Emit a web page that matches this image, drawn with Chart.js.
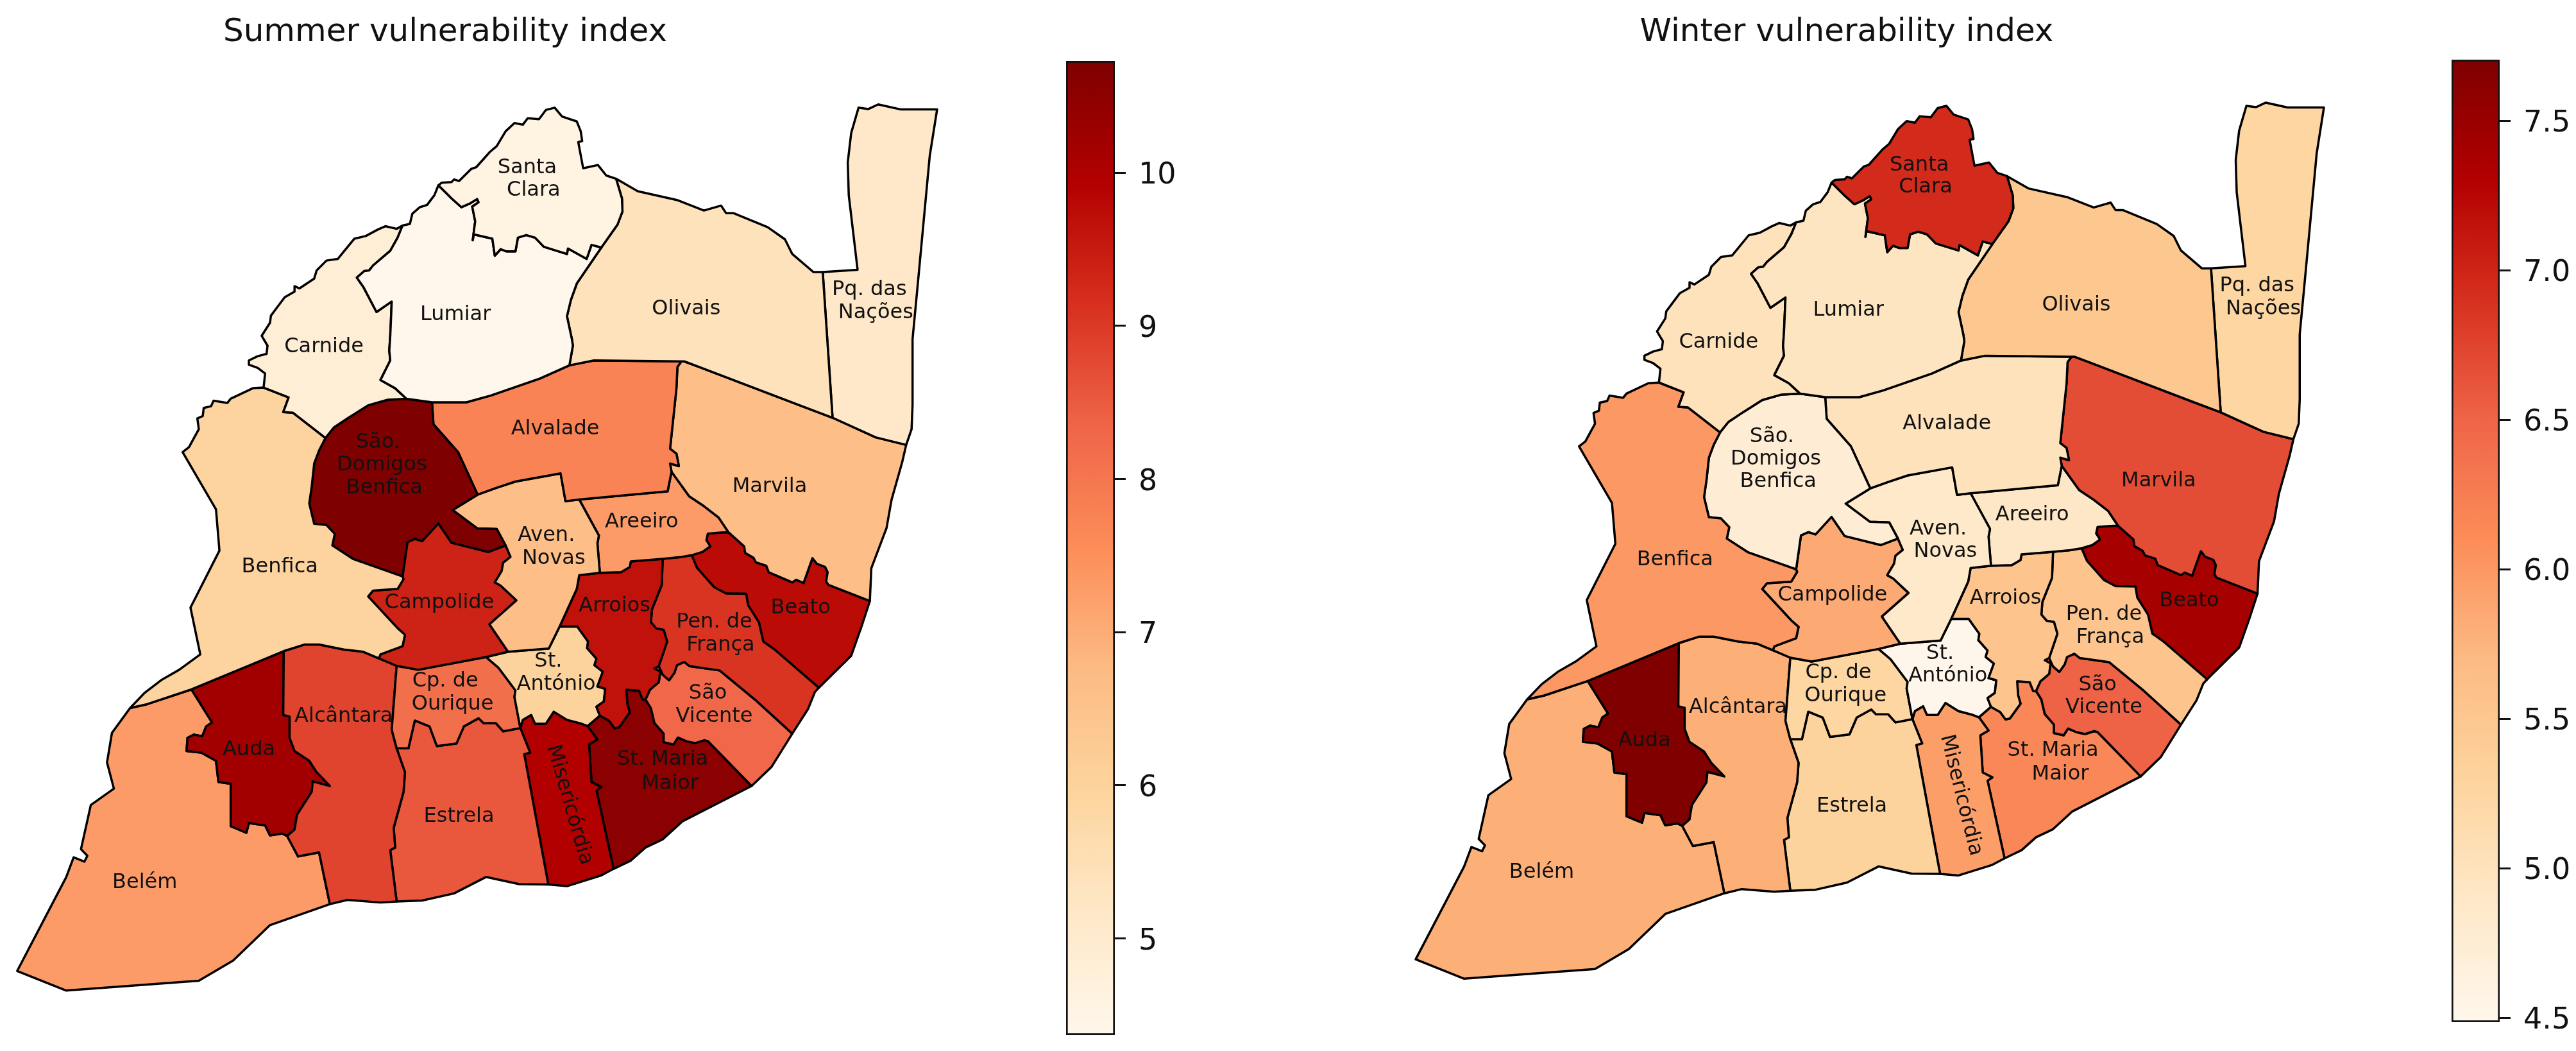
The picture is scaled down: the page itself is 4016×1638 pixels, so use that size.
<!DOCTYPE html>
<html>
<head>
<meta charset="utf-8">
<title>Vulnerability index</title>
<script src="https://cdn.jsdelivr.net/npm/chart.js@4"></script>
<style>
  html, body { margin: 0; padding: 0; background: #fff; width: 4016px; height: 1638px; overflow: hidden; }
  canvas { position: absolute; }
</style>
</head>
<body>
<canvas id="summerMap"></canvas>
<canvas id="summerBar"></canvas>
<canvas id="winterMap"></canvas>
<canvas id="winterBar"></canvas>
<script>
// data
const parishes = ['Santa Clara', 'Lumiar', 'Carnide', 'Olivais', 'Pq. das Nações', 'Benfica', 'São. Domigos Benfica',
  'Alvalade', 'Marvila', 'Aven. Novas', 'Areeiro', 'Campolide', 'Arroios', 'Pen. de França', 'Beato', 'São Vicente',
  'St. António', 'Cp. de Ourique', 'Alcântara', 'Auda', 'Estrela', 'Misericórdia', 'St. Maria Maior', 'Belém'];
const summerValues = [4.6, 4.37, 4.85, 5.4, 5.15, 5.95, 10.73, 7.75, 6.65, 6.65, 7.3, 9.35, 9.65, 9.08, 9.75, 8.3, 6.0, 8.15, 8.85, 10.2, 8.55, 9.95, 10.55, 7.3];
const winterValues = [6.95, 4.95, 5.0, 5.5, 5.25, 6.0, 4.75, 5.0, 6.68, 4.85, 4.9, 5.85, 5.55, 5.55, 7.4, 6.52, 4.5, 5.25, 5.8, 7.7, 5.3, 5.95, 6.15, 5.8];
const summerTicks = [5, 6, 7, 8, 9, 10];
const winterTicks = [4.5, 5, 5.5, 6, 6.5, 7, 7.5];
const summerRange = [4.37, 10.73];
const winterRange = [4.485, 7.704];
const orRd = ['#fff7ec', '#fee8c8', '#fdd49e', '#fdbb84', '#fc8d59', '#ef6548', '#d7301f', '#b30000', '#7f0000'];

// shared parish borders in map units, flat x,y lists
const edges = {
  cb: [537,988,540,945,525,928,507,918,507,905,525,892,543,885,545,860,533,830,550,790,552,768,565,742,580,712,600,695,600,678,610,685,640,655,645,630,665,600,688,595,722,533,745,525,770,505,785,495,808,503,820,493],
  lo: [820,493,835,488,840,457,855,437,870,430,885,400,893,370],
  so: [893,370,900,362,920,360,925,352,935,357,960,320,970,315,998,268,1012,250,1030,205,1048,180,1065,185,1075,165,1098,168,1112,140,1130,133,1145,160,1175,175,1183,205,1186,235,1178,238,1188,318,1218,308,1235,340,1255,350],
  sl: [893,370,920,410,940,437,958,425,972,412,975,422,962,435,968,480,963,538,965,520,1003,533,1008,585,1020,565,1032,572,1050,572,1055,530,1072,522,1090,530,1108,558,1155,580,1157,563,1195,595,1205,552,1225,560],
  sv: [1255,350,1267,410,1268,450,1258,490,1225,560],
  lv: [1225,560,1175,670,1163,720,1155,770,1165,840,1167,860,1160,920],
  lc: [820,493,810,530,795,570,760,615,752,630,742,632,727,652,740,680,767,757,798,725,795,830,793,875,795,905,775,965,805,990,828,1022],
  ld: [828,1022,880,1033],
  la: [880,1033,950,1033,1000,1012,1100,960,1160,920],
  cd: [828,1022,790,1025,750,1042,710,1080,680,1110,663,1142],
  cf: [663,1142,597,1065,577,1063,588,1018,537,988],
  fo: [537,988,515,990,470,1022,463,1035,435,1028,430,1045,415,1050,413,1075,402,1082,405,1115,385,1170,372,1185,440,1360,447,1486,388,1660,408,1803,365,1850,330,1880,295,1920,265,1967],
  fb: [265,1967,300,1955,390,1910],
  fu: [390,1910,578,1793],
  fl: [578,1793,620,1773,650,1773,700,1788,740,1795,772,1815],
  fk: [772,1815,775,1803,820,1778,825,1743,810,1723,750,1626,760,1608,810,1603,822,1573,820,1565],
  fd: [820,1565,720,1512,677,1470,682,1435,665,1408,640,1404,630,1342,635,1290,640,1220,650,1180,663,1142],
  da: [880,1033,883,1100,933,1185,973,1315],
  dn: [973,1315,922,1362,972,1418,1012,1420,1030,1470],
  dk: [1030,1470,995,1490,920,1462,893,1403,860,1457,845,1450,830,1460,820,1565],
  va: [1160,920,1210,905,1388,908],
  am: [1388,908,1380,925,1378,990,1365,1175,1378,1190,1383,1228,1365,1220,1368,1245],
  ar: [1368,1245,1360,1305,1180,1330],
  an: [1180,1330,1152,1335,1142,1250,1050,1275,1010,1295,973,1315],
  vo: [1255,350,1299,388,1379,415,1434,447,1469,432,1479,455,1494,455,1564,498,1599,535,1614,580,1657,635,1676,635],
  vp: [1676,635,1696,1080],
  vm: [1388,908,1394,908,1424,925,1634,1045,1696,1080],
  pm: [1696,1080,1784,1140,1846,1163],
  po: [1676,635,1747,628,1729,400,1727,300,1734,210,1749,133,1769,137,1789,123,1834,138,1909,138,1894,280,1871,650,1859,840,1859,1040,1857,1115,1846,1163],
  mo: [1846,1163,1838,1215,1816,1332,1806,1417,1775,1540,1772,1640],
  mb: [1772,1640,1688,1591,1683,1581,1686,1552,1681,1536,1664,1526,1655,1509,1637,1585,1622,1575,1614,1583,1566,1552,1561,1532,1540,1522,1535,1508,1518,1493,1516,1473,1484,1430],
  mr: [1368,1245,1404,1320,1434,1350,1464,1385,1484,1430],
  rb: [1484,1430,1468,1431,1442,1434,1439,1454,1447,1473,1431,1490,1409,1500],
  re: [1409,1500,1385,1506,1350,1511],
  ri: [1350,1511,1285,1519,1283,1536,1265,1552,1222,1554],
  rn: [1222,1554,1217,1464,1220,1440,1180,1330],
  ni: [1222,1554,1180,1561,1175,1603,1140,1718],
  nt: [1140,1718,1118,1785,1035,1795],
  nk: [1030,1470,1040,1505,1025,1523,1022,1548,1008,1583,1020,1593,1052,1638,997,1711,1035,1795],
  kt: [1035,1795,990,1811],
  kc: [990,1811,852,1850,808,1838],
  kl: [808,1838,772,1815],
  it: [1140,1718,1176,1718,1198,1764,1196,1784,1215,1816,1211,1836,1228,1856,1217,1901,1233,1908,1230,1947,1215,1963,1222,1990],
  is: [1222,1990,1241,2006,1252,2029,1261,2026,1283,1980,1278,1954,1276,1911,1302,1914,1309,1941,1315,1941],
  iv: [1315,1941,1324,1911,1342,1888,1345,1856,1333,1846,1342,1839],
  ie: [1350,1511,1348,1591,1328,1666,1326,1705,1337,1724,1352,1728,1359,1764,1342,1839],
  ev: [1342,1839,1350,1865,1363,1882,1374,1859,1379,1836,1394,1826,1405,1839,1466,1852,1538,1941,1614,2045],
  eb: [1409,1500,1420,1539,1455,1598,1479,1617,1520,1618,1524,1653,1546,1705,1555,1764,1577,1787,1668,1905],
  eo: [1668,1905,1660,1918,1646,1970,1614,2045],
  bo: [1772,1640,1755,1718,1734,1807,1668,1905],
  sc: [1614,2045,1572,2146,1531,2205],
  sm: [1531,2205,1442,2068,1435,2065,1416,2074,1398,2068,1381,2057,1372,2078,1352,2071,1352,2045,1333,2012,1326,1967,1315,1941],
  tc: [990,1811,1015,1843,1050,1913,1048,1933,1060,2028],
  tm: [1060,2028,1065,2003,1082,1988,1090,2015,1112,2015,1128,1978,1155,2003,1185,2015,1197,2022],
  ts: [1197,2022,1222,1990],
  ms: [1197,2022,1217,2063,1200,2078,1205,2193,1225,2208,1215,2218,1250,2458],
  em: [1060,2028,1080,2103,1068,2108,1117,2506],
  ce: [808,2090,832,2090,845,2005,875,2023,890,2083,930,2075,945,2023,975,1998,985,2013,1010,2013,1025,2038,1060,2028],
  lk: [808,1838,798,2033,808,2090],
  le: [808,2090,825,2163,822,2223,802,2333,805,2393,795,2401,808,2558],
  lu: [578,1793,577,1988,590,1993,590,2058,600,2098,630,2128,645,2163,672,2205,637,2191,635,2223,605,2293,600,2338,585,2358],
  ub: [585,2358,575,2350,550,2356,540,2325,507,2318,502,2348,470,2328,470,2198,445,2193,440,2128,410,2103,380,2098,382,2058,395,2048,412,2053,420,2023,432,2011,390,1910],
  lb: [585,2358,607,2420,650,2408,672,2566],
  c1: [672,2566,708,2553,775,2561,808,2558],
  c2: [808,2558,860,2555,925,2533,990,2483,1058,2505,1117,2506],
  c3: [1117,2506,1155,2511,1225,2478,1250,2458],
  c4: [1250,2458,1285,2433,1315,2393,1350,2368,1390,2313,1531,2205],
  bl: [672,2566,550,2630,475,2738,405,2800,135,2830,35,2770,135,2483,150,2423,172,2436,178,2418,165,2398,185,2263,232,2213,218,2133,228,2043,265,1967]
};

// each parish walks round its borders, same order as parishes; minus means backwards
const outlines = ['so sv -sl', 'lo sl lv -la -ld -lc', 'cb lc cd cf', 'vo vp -vm -va -lv -sv', 'po -pm -vp', 'fo fb fu fl fk fd cf',
  '-cd ld da dn dk fd', 'la va am ar an -da', 'vm pm mo mb -mr -am', '-an -rn ni nt -nk -dn', 'mr rb re ri rn -ar',
  'nk kt kc kl fk -dk', '-ri ie -iv -is -it -ni', '-re eb eo -ev -ie', '-mb bo -eb -rb', 'ev sc sm iv', '-nt it -ts -tm -tc -kt',
  '-kc tc -ce -lk', 'fl -kl lk le -c1 -lb -lu', '-fu -ub -lu', 'ce em -c2 -le', 'tm ms -c3 -em', 'ts is -sm -c4 -ms', 'fb -ub lb bl'];

// label lines: text, x, y in map units
const labelLines = [['Santa',1074,316],['Clara',1087,385],['Lumiar',928,765],['Carnide',660,863],['Olivais',1398,748],
  ['Pq. das',1771,690],['Nações',1784,760],['São.',770,1155],['Domigos',778,1225],['Benfica',783,1295],['Alvalade',1131,1115],
  ['Marvila',1568,1292],['Aven.',1113,1440],['Novas',1128,1510],['Areeiro',1307,1398],['Benfica',570,1537],['Campolide',895,1645],
  ['Arroios',1252,1655],['Pen. de',1455,1705],['França',1468,1775],['Beato',1631,1662],['St.',1117,1825],['António',1133,1895],
  ['São',1442,1923],['Vicente',1455,1993],['Cp. de',907,1885],['Ourique',922,1956],['Alcântara',700,1993],['Auda',507,2095],
  ['Estrela',935,2298],['St. Maria',1350,2125],['Maior',1365,2198],['Belém',295,2501]];
const slantLabel = ['Misericórdia', 1160, 2263];

const FONT = '"DejaVu Sans"';
const TITLE_H = 90;

// OrRd lookup, same as a matplotlib linear colormap
function toRgb(hex) {
  return [1, 3, 5].map(i => parseInt(hex.substr(i, 2), 16));
}
function colorFor(v, range) {
  const t = Math.min(1, Math.max(0, (v - range[0]) / (range[1] - range[0]))) * (orRd.length - 1);
  const i = Math.min(orRd.length - 2, Math.floor(t));
  const a = toRgb(orRd[i]), b = toRgb(orRd[i + 1]);
  const c = a.map((x, k) => Math.round(x + (b[k] - x) * (t - i)));
  return `rgb(${c[0]}, ${c[1]}, ${c[2]})`;
}

function outlinePoints(outline) {
  const pts = [];
  outline.split(' ').forEach(token => {
    const back = token[0] === '-';
    const list = edges[back ? token.slice(1) : token];
    const chunk = [];
    for (let i = 0; i < list.length; i += 2) chunk.push({ x: list[i], y: list[i + 1] });
    if (back) chunk.reverse();
    pts.push(...chunk);
  });
  return pts;
}

const parishLabels = {
  id: 'parishLabels',
  afterDatasetsDraw(chart, args, opts) {
    const { ctx, scales } = chart;
    ctx.save();
    ctx.fillStyle = '#111';
    ctx.font = '32px ' + FONT;
    ctx.textAlign = 'center';
    ctx.textBaseline = 'middle';
    labelLines.forEach(([text, x, y]) => {
      ctx.fillText(text, scales.x.getPixelForValue(x), scales.y.getPixelForValue(y));
    });
    ctx.translate(scales.x.getPixelForValue(slantLabel[1]), scales.y.getPixelForValue(slantLabel[2]));
    ctx.rotate(opts.slant * Math.PI / 180);
    ctx.fillText(slantLabel[0], 0, 0);
    ctx.restore();
  }
};

// tick digits sit a little high on 'middle', nudge them down onto the tick
const tickNudge = {
  id: 'tickNudge',
  beforeDraw(chart) {
    chart.scales.y.getLabelItems(chart.chartArea).forEach(item => { item.textOffset += 5; });
  }
};

// box = canvas rect in page pixels; view maps map units to page: X = ax + bx*x, Y = ay + by*y
function mapChart(id, title, values, range, box, view, slant) {
  const el = document.getElementById(id);
  el.width = box.w; el.height = box.h;
  el.style.left = box.x + 'px'; el.style.top = '0px';
  new Chart(el, {
    type: 'scatter',
    data: {
      datasets: parishes.map((name, i) => ({
        label: name,
        data: outlinePoints(outlines[i]),
        showLine: true,
        fill: 'shape',
        backgroundColor: colorFor(values[i], range),
        borderColor: '#000',
        borderWidth: 3.5,
        borderJoinStyle: 'round',
        pointRadius: 0,
        tension: 0
      }))
    },
    options: {
      responsive: false,
      animation: false,
      devicePixelRatio: 1,
      layout: { padding: 0 },
      scales: {
        x: { display: false, min: (box.x - view.ax) / view.bx, max: (box.x + box.w - view.ax) / view.bx },
        y: { display: false, reverse: true, min: (TITLE_H - view.ay) / view.by, max: (box.h - view.ay) / view.by }
      },
      plugins: {
        legend: { display: false },
        tooltip: { enabled: false },
        parishLabels: { slant: slant },
        title: {
          display: true,
          text: title,
          color: '#111',
          font: { family: FONT, size: 50, weight: 'normal', lineHeight: 1.2 },
          padding: { top: 21, bottom: 9 }
        }
      }
    },
    plugins: [parishLabels]
  });
}

function colorBar(id, range, ticks, digits, box) {
  const el = document.getElementById(id);
  el.width = box.w; el.height = box.h;
  el.style.left = box.x + 'px'; el.style.top = box.y + 'px';
  new Chart(el, {
    type: 'bar',
    data: {
      labels: ['index'],
      datasets: [{
        data: [range],
        barPercentage: 1,
        categoryPercentage: 1,
        borderColor: '#111',
        borderWidth: 3,
        borderSkipped: false,
        backgroundColor: (c) => {
          const area = c.chart.chartArea;
          if (!area) return orRd[0];
          const g = c.chart.ctx.createLinearGradient(0, area.bottom, 0, area.top);
          orRd.forEach((col, i) => g.addColorStop(i / (orRd.length - 1), col));
          return g;
        }
      }]
    },
    options: {
      responsive: false,
      animation: false,
      devicePixelRatio: 1,
      layout: { padding: { left: 20, top: 40, bottom: 40, right: 0 } },
      scales: {
        x: { display: false },
        y: {
          position: 'right',
          min: range[0],
          max: range[1],
          afterBuildTicks: (scale) => { scale.ticks = ticks.map(v => ({ value: v })); },
          // keep the bar at its full height, labels may overhang
          afterFit: (scale) => { scale.width = box.axis; scale.paddingTop = 0; scale.paddingBottom = 0; },
          border: { display: false },
          grid: { drawOnChartArea: false, drawTicks: true, tickLength: 17, tickWidth: 3, tickColor: '#111' },
          ticks: {
            color: '#111',
            padding: 20,
            autoSkip: false,
            font: { family: FONT, size: 46 },
            callback: (v) => Number(v).toFixed(digits)
          }
        }
      },
      plugins: { legend: { display: false }, tooltip: { enabled: false } }
    },
    plugins: [tickNudge]
  });
}

// init::charts
mapChart('summerMap', 'Summer vulnerability index', summerValues, summerRange,
  { x: -100, w: 1588, h: 1638 }, { ax: 0, bx: 0.7653, ay: 100, by: 0.5102 }, 74);
mapChart('winterMap', 'Winter vulnerability index', winterValues, winterRange,
  { x: 2118, w: 1522, h: 1638 }, { ax: 2180.6, bx: 0.7556, ay: 97.9, by: 0.5044 }, 76);
colorBar('summerBar', summerRange, summerTicks, 0, { x: 1642, y: 55, w: 216, h: 1598, axis: 120 });
colorBar('winterBar', winterRange, winterTicks, 1, { x: 3802, y: 53, w: 214, h: 1580, axis: 119 });
</script>
</body>
</html>
